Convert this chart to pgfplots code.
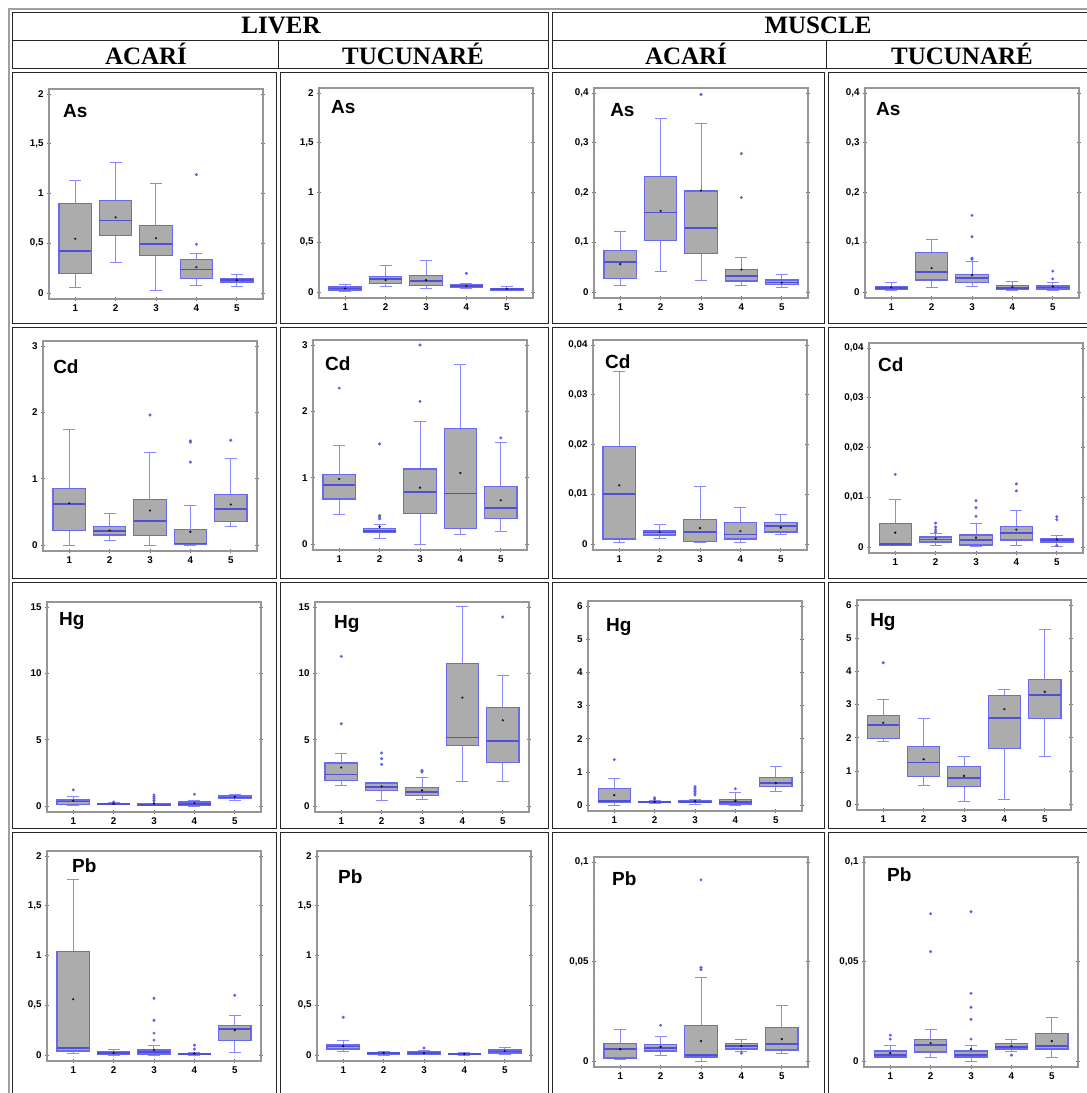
\documentclass[border=0pt]{standalone}
\usepackage{fontspec}
\setmainfont{Liberation Serif}
\setsansfont{Liberation Sans}
\usepackage{pgfplots}
\pgfplotsset{compat=1.18}
\usepgfplotslibrary{statistics}

\definecolor{boxgray}{RGB}{172,172,172}
\definecolor{boxblue}{RGB}{105,105,240}
\definecolor{whiskblue}{RGB}{135,135,255}
\definecolor{medblue}{RGB}{80,80,215}
\definecolor{outblue}{RGB}{95,95,230}
\definecolor{meanbrown}{RGB}{150,90,60}
\definecolor{framegray}{RGB}{150,150,150}
\definecolor{tickgray}{RGB}{110,110,110}

\pgfplotsset{
 panel/.style={width=214pt,height=210pt,scale only axis,anchor=north west,
  xmin=0.35,xmax=5.65,xtick={1,2,3,4,5},xticklabels={1,2,3,4,5},xtick pos=left,
  ytick pos=both,yticklabel pos=left,minor y tick num=4,
  axis line style={draw=framegray,line width=1.1pt},
  tick style={draw=tickgray,line width=0.6pt},
  major tick length=4pt,minor tick length=2.5pt,tick align=center,
  ticklabel style={font=\sffamily\bfseries\fontsize{9.8}{10}\selectfont,text=black},
 },
 rTwo/.style={ymin=-0.06,ymax=2.05,ytick={0,0.5,1,1.5,2},yticklabels={0,{0,5},1,{1,5},2}},
 rFour/.style={ymin=-0.012,ymax=0.41,ytick={0,0.1,0.2,0.3,0.4},yticklabels={0,{0,1},{0,2},{0,3},{0,4}}},
 rThree/.style={ymin=-0.09,ymax=3.075,ytick={0,1,2,3},yticklabels={0,1,2,3}},
 % muscle Cd values stored in units of 0.001
 rCd/.style={ymin=-1.2,ymax=41,ytick={0,10,20,30,40},yticklabels={0,{0,01},{0,02},{0,03},{0,04}}},
 rFifteen/.style={ymin=-0.45,ymax=15.375,ytick={0,5,10,15},yticklabels={0,5,10,15}},
 rSix/.style={ymin=-0.18,ymax=6.15,ytick={0,1,2,3,4,5,6},yticklabels={0,1,2,3,4,5,6}},
 % muscle Pb values stored in units of 0.01
 rPb/.style={ymin=-0.3,ymax=10.25,ytick={0,5,10},yticklabels={0,{0,05},{0,1}}},
 bxs/.style={draw=boxblue,mark=*,mark size=1.3pt,mark options={fill=outblue,draw=outblue},
  boxplot/draw direction=y,
  boxplot/every box/.style={draw=boxblue,fill=boxgray,line width=1.2pt},
  boxplot/every whisker/.style={draw=whiskblue,line width=1pt},
  boxplot/every median/.style={draw=medblue,line width=1.6pt}},
 meanmk/.style={only marks,mark=*,mark size=0.9pt,mark options={fill=meanbrown,draw=none}},
}

% pos, lower whisker, lower quartile, median, upper quartile, upper whisker, mean, outliers
\newcommand{\bx}[8]{%
 \addplot[bxs,boxplot prepared={draw direction=y,draw position=#1,lower whisker=#2,lower quartile=#3,median=#4,upper quartile=#5,upper whisker=#6,box extend=0.8,whisker extend=0.3}] coordinates {#8};
 \addplot[meanmk] coordinates {(#1,#7)};
}
\newcommand{\lab}[3]{\node[font=\sffamily\bfseries\fontsize{19}{20}\selectfont,anchor=north west,inner sep=0pt] at (axis description cs:#1,#2) {#3};}

\begin{document}
\begin{tikzpicture}
\useasboundingbox (0pt,0pt) rectangle (1087pt,-1093pt);
\fill[white] (0pt,0pt) rectangle (1087pt,-1093pt);
% table
\draw[gray!75,line width=2pt] (9pt,-9pt) rectangle (1110pt,-1110pt);
\begin{scope}[line width=1pt,black!85]
\draw (12pt,-12pt) rectangle (548pt,-68pt);
\draw (552pt,-12pt) rectangle (1100pt,-68pt);
\draw (12pt,-40pt) -- (548pt,-40pt);
\draw (552pt,-40pt) -- (1100pt,-40pt);
\draw (278pt,-40pt) -- (278pt,-68pt);
\draw (826pt,-40pt) -- (826pt,-68pt);
\foreach \xa/\xb in {12/276,280/548,552/824,828/1100}{
 \foreach \ya/\yb in {72/323,327/578,582/828,832/1100}{
  \draw (\xa pt,-\ya pt) rectangle (\xb pt,-\yb pt);
 }}
\end{scope}
\begin{scope}[font=\bfseries\fontsize{25}{26}\selectfont]
\node[anchor=base,inner sep=0pt] at (281pt,-33pt) {LIVER};
\node[anchor=base,inner sep=0pt] at (818pt,-33pt) {MUSCLE};
\node[anchor=base,inner sep=0pt] at (146pt,-64pt) {ACARÍ};
\node[anchor=base,inner sep=0pt] at (413pt,-64pt) {TUCUNARÉ};
\node[anchor=base,inner sep=0pt] at (686pt,-64pt) {ACARÍ};
\node[anchor=base,inner sep=0pt] at (962pt,-64pt) {TUCUNARÉ};
\end{scope}

% ---------- Row 1: As ----------
\begin{axis}[panel,rTwo,at={(49pt,-89pt)}]
\lab{0.065}{0.929}{As}
\bx{1}{0.06}{0.20}{0.42}{0.90}{1.13}{0.545}{}
\bx{2}{0.31}{0.58}{0.73}{0.93}{1.31}{0.76}{}
\bx{3}{0.03}{0.38}{0.49}{0.68}{1.10}{0.55}{}
\bx{4}{0.08}{0.15}{0.235}{0.34}{0.40}{0.26}{(0,1.19) (0,0.49)}
\bx{5}{0.07}{0.11}{0.13}{0.145}{0.185}{0.13}{}
\end{axis}
\begin{axis}[panel,rTwo,at={(319pt,-88pt)}]
\lab{0.056}{0.943}{As}
\bx{1}{0.01}{0.02}{0.035}{0.05}{0.073}{0.035}{}
\bx{2}{0.053}{0.085}{0.133}{0.16}{0.263}{0.12}{}
\bx{3}{0.033}{0.063}{0.11}{0.163}{0.313}{0.12}{}
\bx{4}{0.04}{0.047}{0.06}{0.073}{0.09}{0.06}{(0,0.187)}
\bx{5}{0.015}{0.02}{0.028}{0.035}{0.055}{0.03}{}
\end{axis}
\begin{axis}[panel,rFour,at={(594pt,-88pt)}]
\lab{0.075}{0.929}{As}
\bx{1}{0.0135}{0.027}{0.06}{0.083}{0.1225}{0.056}{}
\bx{2}{0.041}{0.103}{0.16}{0.232}{0.349}{0.163}{}
\bx{3}{0.024}{0.078}{0.129}{0.203}{0.338}{0.204}{(0,0.397)}
\bx{4}{0.0135}{0.022}{0.0325}{0.046}{0.07}{0.045}{(0,0.278) (0,0.19)}
\bx{5}{0.01}{0.015}{0.019}{0.024}{0.0345}{0.019}{}
\end{axis}
\begin{axis}[panel,rFour,at={(865pt,-88pt)}]
\lab{0.051}{0.933}{As}
\bx{1}{0.003}{0.005}{0.008}{0.011}{0.02}{0.009}{}
\bx{2}{0.01}{0.024}{0.04}{0.08}{0.106}{0.048}{}
\bx{3}{0.012}{0.019}{0.0285}{0.036}{0.061}{0.034}{(0,0.154) (0,0.111) (0,0.068) (0,0.066)}
\bx{4}{0.003}{0.005}{0.008}{0.013}{0.021}{0.01}{}
\bx{5}{0.003}{0.006}{0.009}{0.012}{0.02}{0.011}{(0,0.042) (0,0.0265)}
\end{axis}

% ---------- Row 2: Cd ----------
\begin{axis}[panel,rThree,at={(43pt,-341pt)}]
\lab{0.047}{0.910}{Cd}
\bx{1}{0.0}{0.225}{0.62}{0.85}{1.74}{0.63}{}
\bx{2}{0.07}{0.15}{0.21}{0.285}{0.47}{0.22}{}
\bx{3}{0.0}{0.14}{0.36}{0.685}{1.39}{0.52}{(0,1.96)}
\bx{4}{0.0}{0.01}{0.025}{0.24}{0.59}{0.2}{(0,1.25) (0,1.55) (0,1.57)}
\bx{5}{0.28}{0.36}{0.54}{0.76}{1.30}{0.61}{(0,1.58)}
\end{axis}
\begin{axis}[panel,rThree,at={(313pt,-340pt)}]
\lab{0.056}{0.919}{Cd}
\bx{1}{0.44}{0.68}{0.89}{1.05}{1.485}{0.98}{(0,2.35)}
\bx{2}{0.08}{0.17}{0.2}{0.24}{0.29}{0.26}{(0,1.51) (0,0.38) (0,0.41) (0,0.43)}
\bx{3}{0.0}{0.457}{0.78}{1.13}{1.85}{0.85}{(0,2.15) (0,3.0)}
\bx{4}{0.15}{0.24}{0.76}{1.74}{2.71}{1.07}{}
\bx{5}{0.19}{0.39}{0.54}{0.87}{1.525}{0.66}{(0,1.6)}
\end{axis}
\begin{axis}[panel,rCd,at={(593pt,-340pt)}]
\lab{0.056}{0.933}{Cd}
\bx{1}{0.4}{1}{10}{19.6}{34.7}{11.8}{}
\bx{2}{1.1}{1.8}{2.3}{2.6}{4}{2.4}{}
\bx{3}{0.3}{0.5}{2.4}{4.9}{11.5}{3.2}{}
\bx{4}{0.3}{1}{1.9}{4.3}{7.4}{2.6}{}
\bx{5}{1.9}{2.4}{3.6}{4.3}{6}{3.3}{}
\end{axis}
\begin{axis}[panel,rCd,at={(869pt,-343pt)}]
\lab{0.042}{0.929}{Cd}
\bx{1}{0.3}{0.4}{0.6}{4.7}{9.6}{2.9}{(0,14.6)}
\bx{2}{0.3}{1}{1.5}{2}{2.7}{1.7}{(0,3) (0,3.5) (0,4) (0,4.8)}
\bx{3}{0.2}{0.4}{1.4}{2.4}{4.7}{1.9}{(0,6.2) (0,7.9) (0,9.3)}
\bx{4}{0.3}{1.4}{2.8}{4.2}{7.3}{3.5}{(0,11.3) (0,12.7)}
\bx{5}{0.2}{1}{1.4}{1.7}{2.4}{1.5}{(0,6.1) (0,5.5) (0,0.3)}
\end{axis}

% ---------- Row 3: Hg ----------
\begin{axis}[panel,rFifteen,at={(47pt,-602pt)}]
\lab{0.056}{0.952}{Hg}
\bx{1}{0.03}{0.13}{0.33}{0.46}{0.7}{0.4}{(0,1.22)}
\bx{2}{0.1}{0.12}{0.15}{0.18}{0.25}{0.17}{(0,0.3)}
\bx{3}{0.02}{0.05}{0.1}{0.15}{0.2}{0.2}{(0,0.4) (0,0.55) (0,0.7) (0,0.84)}
\bx{4}{0.0}{0.05}{0.15}{0.3}{0.45}{0.22}{(0,0.89)}
\bx{5}{0.45}{0.55}{0.65}{0.75}{0.9}{0.7}{}
\end{axis}
\begin{axis}[panel,rFifteen,at={(315pt,-602pt)}]
\lab{0.089}{0.938}{Hg}
\bx{1}{1.56}{1.93}{2.39}{3.24}{3.94}{2.9}{(0,6.2) (0,11.28)}
\bx{2}{0.43}{1.18}{1.43}{1.73}{1.76}{1.48}{(0,3.14) (0,3.57) (0,4.0)}
\bx{3}{0.5}{0.8}{1.06}{1.38}{2.14}{1.18}{(0,2.56) (0,2.64) (0,2.69)}
\bx{4}{1.88}{4.57}{5.15}{10.73}{15.0}{8.17}{}
\bx{5}{1.88}{3.27}{4.9}{7.41}{9.87}{6.46}{(0,14.25)}
\end{axis}
\begin{axis}[panel,rSix,at={(588pt,-601pt)}]
\lab{0.084}{0.919}{Hg}
\bx{1}{0.0}{0.08}{0.12}{0.51}{0.81}{0.3}{(0,1.37)}
\bx{2}{0.05}{0.07}{0.09}{0.1}{0.14}{0.1}{(0,0.18) (0,0.22)}
\bx{3}{0.03}{0.07}{0.09}{0.13}{0.18}{0.12}{(0,0.3) (0,0.35) (0,0.4) (0,0.45) (0,0.5) (0,0.55)}
\bx{4}{0.0}{0.03}{0.09}{0.17}{0.39}{0.13}{(0,0.49)}
\bx{5}{0.41}{0.56}{0.66}{0.83}{1.17}{0.66}{}
\end{axis}
\begin{axis}[panel,rSix,at={(857pt,-600pt)}]
\lab{0.061}{0.938}{Hg}
\bx{1}{1.9}{1.98}{2.38}{2.68}{3.14}{2.45}{(0,4.26)}
\bx{2}{0.55}{0.82}{1.25}{1.74}{2.59}{1.35}{}
\bx{3}{0.09}{0.52}{0.79}{1.13}{1.43}{0.85}{}
\bx{4}{0.15}{1.68}{2.59}{3.26}{3.44}{2.86}{}
\bx{5}{1.43}{2.59}{3.29}{3.75}{5.27}{3.38}{}
\end{axis}

% ---------- Row 4: Pb ----------
\begin{axis}[panel,rTwo,at={(47pt,-851pt)}]
\lab{0.117}{0.962}{Pb}
\bx{1}{0.02}{0.04}{0.07}{1.04}{1.76}{0.56}{}
\bx{2}{0.0}{0.01}{0.02}{0.03}{0.06}{0.02}{}
\bx{3}{0.0}{0.01}{0.03}{0.05}{0.1}{0.05}{(0,0.15) (0,0.22) (0,0.35) (0,0.57)}
\bx{4}{0.0}{0.005}{0.01}{0.015}{0.03}{0.015}{(0,0.06) (0,0.1)}
\bx{5}{0.03}{0.15}{0.26}{0.3}{0.4}{0.25}{(0,0.6)}
\end{axis}
\begin{axis}[panel,rTwo,at={(317pt,-851pt)}]
\lab{0.098}{0.914}{Pb}
\bx{1}{0.04}{0.06}{0.085}{0.1}{0.15}{0.09}{(0,0.38)}
\bx{2}{0.0}{0.01}{0.02}{0.025}{0.04}{0.02}{}
\bx{3}{0.005}{0.01}{0.02}{0.03}{0.05}{0.02}{(0,0.07)}
\bx{4}{0.0}{0.005}{0.01}{0.015}{0.025}{0.01}{}
\bx{5}{0.005}{0.02}{0.035}{0.05}{0.08}{0.04}{}
\end{axis}
\begin{axis}[panel,rPb,at={(594pt,-857pt)}]
\lab{0.084}{0.933}{Pb}
\bx{1}{0.1}{0.15}{0.6}{0.9}{1.6}{0.6}{}
\bx{2}{0.3}{0.5}{0.65}{0.85}{1.25}{0.72}{(0,1.8)}
\bx{3}{0.0}{0.2}{0.3}{1.8}{4.2}{1.0}{(0,4.6) (0,4.7) (0,9.1)}
\bx{4}{0.5}{0.6}{0.75}{0.9}{1.1}{0.75}{(0,0.4)}
\bx{5}{0.4}{0.55}{0.85}{1.7}{2.8}{1.1}{}
\end{axis}
\begin{axis}[panel,rPb,at={(864pt,-857pt)}]
\lab{0.107}{0.948}{Pb}
\bx{1}{0.2}{0.2}{0.3}{0.5}{0.8}{0.4}{(0,1.1) (0,1.3)}
\bx{2}{0.2}{0.45}{0.8}{1.1}{1.6}{0.9}{(0,5.5) (0,7.4)}
\bx{3}{0.0}{0.2}{0.3}{0.5}{0.8}{0.6}{(0,1.1) (0,2.1) (0,2.7) (0,3.4) (0,7.5)}
\bx{4}{0.5}{0.6}{0.7}{0.9}{1.1}{0.75}{(0,0.3)}
\bx{5}{0.2}{0.6}{0.75}{1.4}{2.2}{1.0}{}
\end{axis}
\end{tikzpicture}
\end{document}
